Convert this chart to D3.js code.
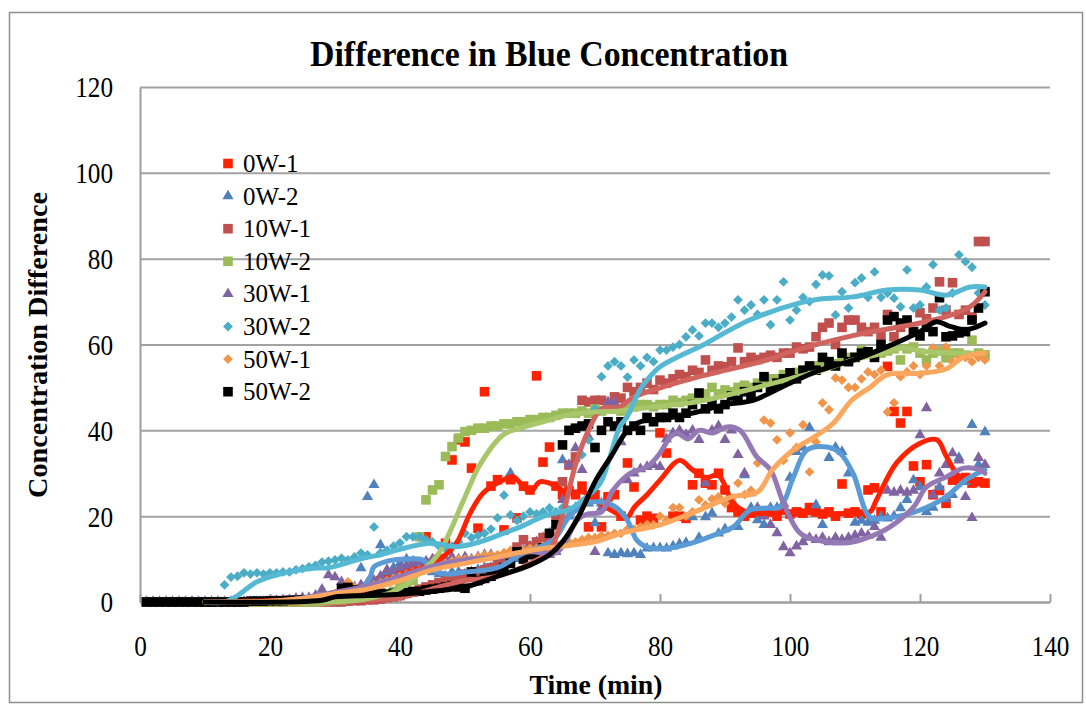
<!DOCTYPE html>
<html>
<head>
<meta charset="utf-8">
<script src="https://cdn.jsdelivr.net/npm/d3@7"></script>
<style>
  body { margin: 0; background: #fff; }
  svg text { font-family: "Liberation Serif", "Times New Roman", serif; fill: #000; }
</style>
</head>
<body>
<svg id="chart" width="1086" height="709"></svg>
<script>
// ---------- data ----------
const seriesNames = ["0W-1", "0W-2", "10W-1", "10W-2", "30W-1", "30W-2", "50W-1", "50W-2"];
const minutes = d3.range(1, 131);            // one reading per minute, 1..130
const xTicks = [0, 20, 40, 60, 80, 100, 120, 140];
const yTicks = [0, 20, 40, 60, 80, 100, 120];

// measured concentration difference, one value per minute
const w0_1 = [
  0,0,0,0,0,0,0,0,0,0,
  0,0,0,0,0,0,0,0,0,0,
  0,0,0,0,0,0.5,0.5,1,1,1.5,
  2,2,2.5,3,3.5,4,5,5.5,6,7,
  7.5,8,8.5,15.2,9,10,13.7,33.1,37.8,37.3,
  31.2,17.2,49,27,28.5,16.8,28.5,19.6,27,26.1,
  52.7,32.6,36.1,27,25,26,25,27,17.5,25,
  17.5,24.5,25,20,32.4,26.8,19.1,20,19.5,39.4,
  34.7,20,20,19.5,27.3,30,27.7,27.3,30,26.1,
  22,21,20,20.7,21,20.7,21,20,21.5,20.5,
  21,20.7,22,21,20.5,21,20,27.5,20.7,21,
  20.5,26.1,26.6,21,54.9,44.4,41.7,44.4,31.7,28,
  32,25,26,23,28.4,28.4,29,27.7,28,27.7
];
const w0_2 = [
  0,0,0,0,0,0,0,0,0,0,
  0,0,0,0,0,0,0,0,0,0,
  0,0,0,0,0,0,0,0,0.3,0.5,
  1,2,3,7.9,24.5,27.3,13.3,7,8,9,
  10,9.5,9,8,7,6.5,6,7,7,6.5,
  7,7.5,8,8,8.5,9,30,10,12,13,
  14,15,16,18,33.1,20,22,23,23,18.4,
  23,11.4,11,11.4,11.2,11.4,11,12.5,12.6,12.6,
  12.5,13,13.5,13.8,19.8,15,19.8,20.7,16,17,
  23.8,17.5,29.6,22,19.1,18,22,22,23,29,
  35,36,40.6,22.6,18,33.6,36,35,30,18.5,
  19,18.5,19,19.8,19.5,20,21.9,23.8,28.4,26.8,
  21,22,26.8,24,25,33.6,28,41.3,32,39.6
];
const w10_1 = [
  0,0,0,0,0,0,0,0,0,0,
  0,0,0,0,0,0,0,0,0,0,
  0,0,0,0,0,0,0,0,0,0,
  0,0.2,0.3,0.3,0.5,0.5,0.7,1,1.2,1.5,
  2,2.5,3,3.5,4,4.5,5,5.5,6,6.5,
  6.5,7,7.5,8,9,10,11,12.8,14.5,13,
  14,15,15.6,20,28,31.9,33.8,47,46.6,47,
  47,46,47.8,47.5,50,49,50,51,49.5,51.7,
  51,52,53,52.5,54,53.5,56.4,54,55,54.8,
  56,59.2,56,57,56.5,57,57.5,57,58,58,
  59.4,59,59.4,61.8,64,65,60,64,65.7,65.7,
  64,63,64,62,67,61.8,64,65,63,67.4,
  66,68.5,74.6,68,74.4,67,68,66.4,84,84
];
const w10_2 = [
  0,0,0,0,0,0,0,0,0,0,
  0,0,0,0,0,0,0,0,0,0,
  0,0,0,0,0,0,0,0.2,0.3,0.5,
  0.5,0.8,1,1,1.2,1.5,1.5,2,2.5,3.5,
  4.5,5,15.2,23.8,26.1,27.3,33.9,36.2,38.2,39.7,
  40,40.5,40.5,41,41,41.5,41.5,42,42,42.5,
  42.5,43,43,43.5,44,44,44,44.5,44,45,
  44.5,45,45,44.5,45,45.5,46,46,45.5,46,
  46,47,46.5,47,47.5,48,48.5,50,48.5,49.4,
  49,50,50.5,50,51,51.5,52,52,53,53,
  53.5,54,54,55,55.5,56,55.5,56.5,57,57,
  58.7,58,57.5,58,58.5,59,56.4,59,59.4,58,
  56.4,58,58.5,56.9,58,58,57.5,61,58,57.6
];
const w30_1 = [
  0,0,0,0,0,0,0,0,0,0,
  0,0,0,0,0,0,0,0,0,0,
  0.3,0.5,0.5,0.8,1,1,1.5,2.9,6.3,5.8,
  4.7,3,3.5,4,4.5,5,6,7.5,7,8,
  8.5,9,9,9.5,10,10,10,10.5,10,10.5,
  10,10.5,11,11,10.5,11,11.5,11,12,11.5,
  12,11,11,11.7,23.8,32,35.9,30.8,38.5,11.7,
  22,46.6,46.6,37.3,28.4,30,31,31.5,32,31.5,
  38,39.4,40,39,40,37.8,27.7,40,41,37.8,
  40,34.3,30,25.4,22,20,18,16.1,12.8,11.4,
  13,14,15,14.5,15,14,15,14.5,15,15.5,
  16,15.5,17.5,15,26,25.5,26,25.5,26,38.9,
  45.2,24.9,30,32,34.7,33,24.5,19.6,33.6,32
];
const w30_2 = [
  0,0,0,0,0,0,0,0,0,0,
  0,0,4,5.8,6,6.8,6.5,6.8,6.5,6.8,
  6.8,7,7,7.5,7.8,8.2,8.5,9.3,9.5,9.8,
  10.2,9.8,10.5,11.4,11,17.5,11.5,12,13,13.8,
  15.2,15.2,15.2,14.5,14,13,12.5,13,14,16,
  15,15.5,16,17,19.6,24.9,20.3,19,20,21,
  20.5,21,21.9,21,22,21.5,22,34.3,37.8,45,
  52.5,55,56,55,52.4,56.4,55,57,56,58.7,
  58.7,59.4,60,61.8,63.4,62,65,65,64,65,
  66.4,70.4,68,69.2,67,70.4,64.6,70.4,74.6,65.7,
  68,71,70,74,76.2,76,66.9,72.3,68.5,74.4,
  75.5,71,76.9,71,72,70.8,68.8,77.4,68.5,69.2,
  73.4,78.6,68,68.5,72,80.9,79.3,78,72,69.2
];
const w50_1 = [
  0,0,0,0,0,0,0,0,0,0,
  0,0,0,0,0,0,0,0,0,0,
  0,0,0,0,0,0.3,0.5,1,1.5,2,
  3,4.7,3.5,3,3.5,4,4.5,5,5.5,6,
  6.5,7,7.5,8,8,9,9,9.5,10,10,
  10,10.5,11,11,11,11.5,12,11.5,12,12.5,
  12.5,13,13,13.5,13.5,14,14,14.5,15,15,
  15.5,15.5,16,16,17,17,17.5,18,18,20,
  19,22,22,20,21,23.8,22.6,24,24.5,23,
  24,27.7,25,26,32.4,42.4,41.7,37.8,33,39.4,
  36,41.3,30.3,37.3,46.4,44.8,52.2,51.7,50,50,
  52,53.6,53,54,44.3,46.4,52.5,53.6,55,53,
  55,59.2,55,59.4,56,57.1,57,56,57,56.4
];
const w50_2 = [
  0,0,0,0,0,0,0,0,0,0,
  0,0,0,0,0,0,0.2,0.2,0.2,0.3,
  0.3,0.3,0.4,0.4,0.5,0.5,0.6,0.8,1,1.5,
  3.2,3.4,2.8,1.5,1.5,1.8,2,1.8,2,2.2,
  2.2,2.4,2.5,2.8,3,3.2,3.5,3.8,3.5,3.2,
  7,5,5.5,6,7,8,9,11.7,10,11,
  11,12.6,16,18,36.6,40,40.5,41,41.5,36,
  40,42,41,42,40,41,40,43,42,43,
  43,44,43,44,46,48.7,45,46,45,46,
  48,47,49,48,50,52.5,50,51,52,53.4,
  52,54,55,54,57,56,55,58,56,57,
  58,58.3,57,60,65.7,66.5,65,65.7,63,62,
  64,63,70.9,61.8,62,62.7,63,65.7,68.5,72.3
];

// moving-average trend of each run, as [minute, value] knots
const trend0_1 = [[10,0],[20,0.3],[30,1],[35,3],[40,6],[45,9],[47,11],[48.7,13.7],[50.8,20.7],[52.8,25.4],[55.9,28.4],[57.4,29.2],[60,25.6],[61.5,28],[63.6,27.3],[65.6,25.6],[68.2,25.6],[70.8,23],[73.3,20.7],[75,19.8],[76,22],[78,25],[80,28.4],[83,33],[85,30.8],[87,29],[89,29.5],[91.3,23],[93.8,20.7],[96.5,20.7],[101.5,21],[105,20.5],[109,20.7],[112.3,21],[113.3,23.8],[116.4,32.4],[120,37],[122.6,37.8],[124.1,33.8],[126.2,29.1],[130,27.7]];
const trend0_2 = [[10,0],[25,0],[30,0.5],[33,2],[34.3,3.5],[35.4,5.8],[36,8.2],[38,9.5],[41,10],[43.5,9.8],[45,7.5],[47,6.5],[50,7],[55,8],[58.5,11],[63.6,14.5],[66,19.8],[68.7,23],[70.8,23.3],[73.3,22],[75,19],[76.4,14.5],[78,12.8],[81.5,12.6],[85,13.8],[89,16],[91.3,17.5],[93.8,21.4],[96.5,21.9],[98.5,22.1],[100.5,29],[102.6,35.4],[105.7,36.1],[107.7,34.7],[109.7,30],[112.3,19.8],[115,19.6],[120,21.4],[124,24.5],[127,28.4],[130,30.8]];
const trend10_1 = [[10,0],[30,0],[35,0.5],[40,1],[46,3.5],[50,5],[55,6],[60,9],[63,12],[65,20],[67,32],[69,40],[71,45],[73.8,45.5],[76,47.8],[79,49.4],[86,52.5],[89,53.6],[96.5,56.4],[99.5,58],[109.5,62],[120,65],[124,66.5],[127.7,68.8],[130,72.3]];
const trend10_2 = [[10,0],[28,0],[34,0.5],[39.5,2.8],[43,6.7],[46,11.4],[49.8,23.8],[52.3,32],[55.9,39],[58.5,40.5],[62,42],[66,43.6],[70,44.3],[73.8,44.5],[79,45.5],[85,46.5],[89.2,47.8],[95,50],[100,52],[105,54],[109.7,56.4],[113,57.5],[117.4,59.2],[120,58.5],[125,58],[130,58]];
const trend30_1 = [[10,0],[22,0.3],[29,2],[34.3,3.5],[39.5,5.8],[44.6,8.2],[49.7,9.8],[55,10.5],[60,11.7],[64,11.4],[65.6,14.5],[67.2,19],[68.8,20.5],[71,21],[72.8,26.1],[75.4,30],[78,31.5],[80,34.7],[81.5,38.3],[82.6,39.4],[84.3,38],[86,40],[88.2,39.4],[90.3,40.8],[92.3,40],[94.9,33.8],[97,30.8],[99,23],[101.5,16.1],[104,14.5],[109,13.8],[112.3,15.2],[115.4,17.5],[119,22.1],[121,26.8],[124,29.1],[126.7,31.2],[129.2,30.8],[130,30]];
const trend30_2 = [[10,0],[13,0],[15,1.5],[18,4.7],[22,6.7],[27,7.9],[29,8],[34.3,10.2],[37,11],[39.5,12.1],[44.6,13.7],[48.7,12.9],[52.3,14],[55.9,16],[58.5,17.5],[61.5,19.6],[63.6,20.7],[66,21.5],[68.7,24.5],[70.8,27.7],[72.3,33.8],[73.8,40.8],[74.9,43.1],[76.9,49.4],[78,51.7],[80,54.8],[84,58],[86,59.4],[93.8,65.7],[101.5,69.7],[104.6,70.6],[109.7,71.1],[114.9,72.7],[120,72.7],[124,71.5],[127.7,73.4],[130,73.4]];
const trend50_1 = [[10,0],[20,0.2],[25,0.8],[30,2],[35,3],[40,5],[45,7.5],[50,9],[55,10.5],[60,12],[65,13],[70,14],[74,16],[80,18],[86,21.4],[91,24.5],[95,25.6],[97.4,31],[100.5,35.4],[104,38.7],[106.7,41.7],[109.5,47],[112.3,50],[115,53],[120,53.3],[124,54.3],[126.6,57],[130,58]];
const trend50_2 = [[10,0],[28,0.4],[30,1.2],[35,1.5],[40,1.8],[45,2.5],[50,3.5],[55,6],[60,8.6],[63,11],[65,14],[67.5,20],[70,28],[72.5,34],[75,40],[77,42],[80,42.5],[85,44],[90,46],[94.3,47],[100,51],[104.6,54],[110,56.5],[115,59.5],[120,63],[122.5,65.3],[124.5,64.3],[127,63.4],[128.5,64],[130,65]];

const readings = [w0_1, w0_2, w10_1, w10_2, w30_1, w30_2, w50_1, w50_2];
const trends = [trend0_1, trend0_2, trend10_1, trend10_2, trend30_1, trend30_2, trend50_1, trend50_2];

// ---------- appearance ----------
const markerColor = ["#FF2200", "#4F81BD", "#C0504D", "#9BBB59", "#8064A2", "#4BACC6", "#F0954A", "#000000"];
const lineColor   = ["#FF2200", "#5B9BD5", "#D0635E", "#A8C76A", "#9479B5", "#55B9D4", "#FBA75E", "#000000"];
const markerShape = ["square", "triangle", "square", "square", "triangle", "diamond", "diamond", "square"];

const svg = d3.select("#chart");
const plot = { left: 140, right: 1050, top: 87, bottom: 602 };
const x = d3.scaleLinear().domain([0, 140]).range([plot.left, plot.right]);
const y = d3.scaleLinear().domain([0, 120]).range([plot.bottom, plot.top]);

// outer chart frame
svg.append("rect")
  .attr("x", 9.5).attr("y", 12.5).attr("width", 1073).attr("height", 690)
  .attr("fill", "none").attr("stroke", "#8E8E8E").attr("stroke-width", 1.5);

// y axis with full-width gridlines
const yAxis = svg.append("g")
  .attr("transform", `translate(${plot.left},0)`)
  .call(d3.axisLeft(y).tickValues(yTicks).tickSize(-(plot.right - plot.left)).tickSizeOuter(0).tickPadding(31));
yAxis.select(".domain").attr("stroke", "#9E9E9E").attr("stroke-width", 2);
yAxis.selectAll(".tick line").attr("stroke", "#A2A2A2").attr("stroke-width", 2);
yAxis.selectAll(".tick text")
  .attr("font-size", 29).attr("transform", "scale(0.87,1)").attr("dy", "0.34em")
  .style("font-family", "'Liberation Serif', serif");

// x axis with short inward ticks
const xAxis = svg.append("g")
  .attr("transform", `translate(0,${plot.bottom})`)
  .call(d3.axisBottom(x).tickValues(xTicks).tickSize(-8).tickSizeOuter(0).tickPadding(33));
xAxis.select(".domain").attr("stroke", "#9E9E9E").attr("stroke-width", 2);
xAxis.selectAll(".tick line").attr("stroke", "#9E9E9E").attr("stroke-width", 2);
xAxis.selectAll(".tick text")
  .attr("font-size", 29).attr("transform", "scale(0.87,1)")
  .style("font-family", "'Liberation Serif', serif");

// marker generators
function symbolFor(shape) {
  if (shape === "square") return d3.symbol().type(d3.symbolSquare).size(92)();
  if (shape === "triangle") return d3.symbol().type(d3.symbolTriangle).size(54)();
  return d3.symbol().type(d3.symbolSquare).size(48)();
}
function markerTransform(shape, px, py) {
  return shape === "diamond" ? `translate(${px},${py}) rotate(45)` : `translate(${px},${py})`;
}

// scatter markers
const points = svg.append("g");
readings.forEach((vals, i) => {
  points.append("g").selectAll("path")
    .data(vals.map((v, k) => [minutes[k], v]))
    .join("path")
    .attr("d", symbolFor(markerShape[i]))
    .attr("transform", d => markerTransform(markerShape[i], x(d[0]), y(d[1])))
    .attr("fill", markerColor[i]);
});

// moving-average trend lines
const line = d3.line().x(d => x(d[0])).y(d => y(d[1])).curve(d3.curveCatmullRom.alpha(0.5));
const lines = svg.append("g");
trends.forEach((t, i) => {
  lines.append("path")
    .attr("d", line(t))
    .attr("fill", "none")
    .attr("stroke", lineColor[i])
    .attr("stroke-width", 5)
    .attr("stroke-linejoin", "round")
    .attr("stroke-linecap", "round");
});

// legend
const legend = svg.append("g");
seriesNames.forEach((name, i) => {
  const cy = 163.5 + i * 32.6;
  legend.append("path")
    .attr("d", symbolFor(markerShape[i]))
    .attr("transform", markerTransform(markerShape[i], 228, cy))
    .attr("fill", markerColor[i]);
  legend.append("text")
    .attr("x", 243).attr("y", cy + 8.5)
    .attr("font-size", 25)
    .text(name);
});

// titles
svg.append("text")
  .attr("x", 549).attr("y", 66).attr("text-anchor", "middle")
  .attr("font-size", 36).attr("font-weight", "bold")
  .attr("textLength", 478).attr("lengthAdjust", "spacingAndGlyphs")
  .text("Difference in Blue Concentration");
svg.append("text")
  .attr("x", 596).attr("y", 694).attr("text-anchor", "middle")
  .attr("font-size", 28).attr("font-weight", "bold")
  .attr("textLength", 133).attr("lengthAdjust", "spacingAndGlyphs")
  .text("Time (min)");
svg.append("text")
  .attr("transform", "translate(47,345) rotate(-90)")
  .attr("text-anchor", "middle")
  .attr("font-size", 28).attr("font-weight", "bold")
  .attr("textLength", 306).attr("lengthAdjust", "spacingAndGlyphs")
  .text("Concentration Difference");
</script>
</body>
</html>
